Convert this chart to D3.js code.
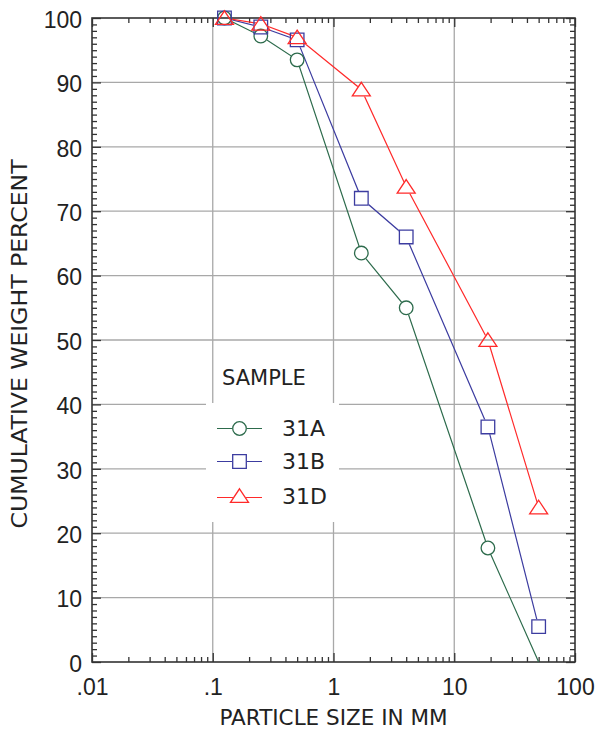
<!DOCTYPE html>
<html>
<head>
<meta charset="utf-8">
<script src="https://cdn.jsdelivr.net/npm/d3@7/dist/d3.min.js"></script>
<style>
  body { margin: 0; background: #fff; }
  text { font-family: "DejaVu Sans", sans-serif; fill: #222; }
  .tick text { font-family: "Liberation Sans", sans-serif; font-size: 23px; fill: #222; }
</style>
</head>
<body>
<div id="chart"></div>
<script>
// particle sizes (mm) of the sieve fractions
var sizes = [0.125, 0.25, 0.5, 1.7, 4, 19, 50];
// cumulative weight percent per sample
var s31A = [100, 97.2, 93.5, 63.5, 55, 17.7, 0];
var s31B = [100, 98.6, 96.6, 72, 66, 36.5, 5.5];
var s31D = [100, 99.1, 97, 88.9, 73.8, 50, 24];
var seriesNames = ["31A", "31B", "31D"];
var seriesShapes = ["circle", "square", "triangle"];
var seriesColors = ["#2d6b4c", "#3c3ca0", "#ff2a2a"];
var xTicks = [0.01, 0.1, 1, 10, 100];
var yTicks = [0, 10, 20, 30, 40, 50, 60, 70, 80, 90, 100];

var W = 600, H = 730;
var pL = 92, pR = 575, pT = 18, pB = 662;

var svg = d3.select("#chart").append("svg").attr("width", W).attr("height", H);
var defs = svg.append("defs");

var x = d3.scaleLog().domain([0.01, 100]).range([pL, pR]);
var y = d3.scaleLinear().domain([0, 100]).range([pB, pT]);

var minorX = [];
xTicks.slice(0, -1).forEach(function (d) {
  for (var k = 2; k <= 9; k++) minorX.push(d * k);
});
var minorY = d3.range(0, 101, 1).filter(function (d) { return d % 10; });

defs.append("clipPath").attr("id", "plotclip")
  .append("rect").attr("x", pL).attr("y", pT)
  .attr("width", pR - pL).attr("height", pB - pT);

// grid
var grid = svg.append("g").attr("stroke", "#a8a8a8").attr("stroke-width", 1.3);
grid.selectAll("line.gx").data([0.1, 1, 10]).enter().append("line")
  .attr("class", "gx")
  .attr("x1", function (d) { return x(d); }).attr("x2", function (d) { return x(d); })
  .attr("y1", pT).attr("y2", pB);
grid.selectAll("line.gy").data(yTicks.slice(1, -1)).enter().append("line")
  .attr("class", "gy")
  .attr("y1", function (d) { return y(d); }).attr("y2", function (d) { return y(d); })
  .attr("x1", pL).attr("x2", pR);

// legend backdrop hides grid
svg.append("rect").attr("x", 206).attr("y", 403).attr("width", 133).attr("height", 119)
  .attr("fill", "#fff");

// axes with inward ticks
function styleAxis(g) {
  g.select(".domain").remove();
  g.selectAll(".tick line").attr("stroke", "#333").attr("stroke-width", 1.3);
}
var fmtX = function (d) { return String(d).replace(/^0\./, "."); };

svg.append("g").attr("transform", "translate(0," + pB + ")")
  .call(d3.axisBottom(x).tickValues(xTicks).tickSize(-9).tickSizeOuter(0).tickPadding(17).tickFormat(fmtX))
  .call(styleAxis);
svg.append("g").attr("transform", "translate(0," + pB + ")")
  .call(d3.axisBottom(x).tickValues(minorX).tickSize(-5).tickSizeOuter(0).tickFormat(""))
  .call(styleAxis);
svg.append("g").attr("transform", "translate(0," + pT + ")")
  .call(d3.axisTop(x).tickValues(xTicks).tickSize(-9).tickSizeOuter(0).tickFormat(""))
  .call(styleAxis);
svg.append("g").attr("transform", "translate(0," + pT + ")")
  .call(d3.axisTop(x).tickValues(minorX).tickSize(-5).tickSizeOuter(0).tickFormat(""))
  .call(styleAxis);

svg.append("g").attr("transform", "translate(" + pL + ",0)")
  .call(d3.axisLeft(y).tickValues(yTicks).tickSize(-9).tickSizeOuter(0).tickPadding(10).tickFormat(d3.format("d")))
  .call(styleAxis)
  .selectAll("text").attr("dy", "0.4em");
svg.append("g").attr("transform", "translate(" + pL + ",0)")
  .call(d3.axisLeft(y).tickValues(minorY).tickSize(-5).tickSizeOuter(0).tickFormat(""))
  .call(styleAxis);
svg.append("g").attr("transform", "translate(" + pR + ",0)")
  .call(d3.axisRight(y).tickValues(yTicks).tickSize(-9).tickSizeOuter(0).tickFormat(""))
  .call(styleAxis);
svg.append("g").attr("transform", "translate(" + pR + ",0)")
  .call(d3.axisRight(y).tickValues(minorY).tickSize(-5).tickSizeOuter(0).tickFormat(""))
  .call(styleAxis);

svg.append("rect").attr("x", pL).attr("y", pT)
  .attr("width", pR - pL).attr("height", pB - pT)
  .attr("fill", "none").attr("stroke", "#333").attr("stroke-width", 1.6);

// axis titles
svg.append("text").attr("x", (pL + pR) / 2).attr("y", 725)
  .attr("text-anchor", "middle").style("font-size", "21.5px")
  .text("PARTICLE SIZE IN MM");
svg.append("text").attr("transform", "translate(27," + ((pT + pB) / 2 + 4) + ") rotate(-90)")
  .attr("text-anchor", "middle").style("font-size", "21px")
  .attr("textLength", 369).attr("lengthAdjust", "spacingAndGlyphs")
  .text("CUMULATIVE WEIGHT PERCENT");

// marker shapes
function markerPath(shape) {
  var p = d3.path();
  if (shape === "circle") {
    p.arc(0, 0, 6.8, 0, 2 * Math.PI);
  } else if (shape === "square") {
    p.rect(-6.8, -6.8, 13.6, 13.6);
  } else {
    p.moveTo(0, -7.2); p.lineTo(9, 6.4); p.lineTo(-9, 6.4); p.closePath();
  }
  return p.toString();
}

function makeMask(id, centers, shape) {
  var m = defs.append("mask").attr("id", id).attr("maskUnits", "userSpaceOnUse")
    .attr("x", 0).attr("y", 0).attr("width", W).attr("height", H);
  m.append("rect").attr("width", W).attr("height", H).attr("fill", "#fff");
  m.selectAll("path").data(centers).enter().append("path")
    .attr("d", markerPath(shape))
    .attr("transform", function (c) { return "translate(" + c[0] + "," + c[1] + ")"; })
    .attr("fill", "#000").attr("stroke", "#000").attr("stroke-width", 1.2);
}

var allSeries = [s31A, s31B, s31D];
var line = d3.line().x(function (d) { return x(d.s); }).y(function (d) { return y(d.v); });
var plot = svg.append("g").attr("clip-path", "url(#plotclip)");

allSeries.forEach(function (vals, i) {
  var pts = sizes.map(function (s, j) { return { s: s, v: vals[j] }; });
  // the point lying on the bottom axis shows no marker in the original
  var shown = pts.filter(function (d) { return d.v > 0; });
  var centers = shown.map(function (d) { return [x(d.s), y(d.v)]; });
  makeMask("mask" + i, centers, seriesShapes[i]);
  plot.append("path").datum(pts)
    .attr("d", line).attr("fill", "none")
    .attr("stroke", seriesColors[i]).attr("stroke-width", 1.2)
    .attr("mask", "url(#mask" + i + ")");
  svg.selectAll("path.mk" + i).data(centers).enter().append("path")
    .attr("class", "mk" + i)
    .attr("d", markerPath(seriesShapes[i]))
    .attr("transform", function (c) { return "translate(" + c[0] + "," + c[1] + ")"; })
    .attr("fill", "none").attr("stroke", seriesColors[i]).attr("stroke-width", 1.3);
});

// legend
var legend = svg.append("g");
legend.append("text").attr("x", 222).attr("y", 385).style("font-size", "21px").text("SAMPLE");
var legendRows = [428.5, 461.5, 496];
seriesNames.forEach(function (name, i) {
  var cy = legendRows[i], cx = 239.5;
  var ly = i === 2 ? cy + 1.5 : cy;
  makeMask("lmask" + i, [[cx, cy]], seriesShapes[i]);
  legend.append("line").attr("x1", 217).attr("x2", 262).attr("y1", ly).attr("y2", ly)
    .attr("stroke", seriesColors[i]).attr("stroke-width", 1.2)
    .attr("mask", "url(#lmask" + i + ")");
  legend.append("path").attr("d", markerPath(seriesShapes[i]))
    .attr("transform", "translate(" + cx + "," + cy + ")")
    .attr("fill", "none").attr("stroke", seriesColors[i]).attr("stroke-width", 1.3);
  legend.append("text").attr("x", 282).attr("y", cy + 7.5)
    .style("font-size", "22px").text(name);
});
</script>
</body>
</html>
